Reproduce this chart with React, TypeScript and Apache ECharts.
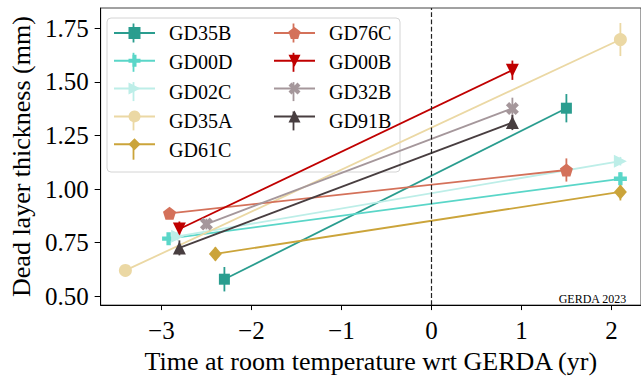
import React, { useEffect, useRef } from "react";
import * as echarts from "echarts";

const detectors = ["GD35B", "GD00D", "GD02C", "GD35A", "GD61C", "GD76C", "GD00B", "GD32B", "GD91B"];
const colors = ["#2a9d8f", "#5ad6c8", "#bdeee8", "#ebd8a4", "#cba43a", "#d4715a", "#c00000", "#a5979b", "#483e40"];
const timeStart = [-2.30, -2.92, -2.82, -3.40, -2.40, -2.91, -2.80, -2.50, -2.80];
const timeEnd = [1.50, 2.10, 2.10, 2.10, 2.10, 1.50, 0.90, 0.90, 0.90];
const dlStart = [0.580, 0.769, 0.780, 0.621, 0.698, 0.887, 0.814, 0.837, 0.726];
const dlEnd = [1.377, 1.048, 1.130, 1.697, 0.987, 1.089, 1.554, 1.376, 1.310];
const errStart = [0.057, 0.025, 0.02, 0.02, 0.03, 0.02, 0.035, 0.025, 0.035];
const errEnd = [0.066, 0.03, 0.02, 0.077, 0.04, 0.054, 0.045, 0.05, 0.035];
const xTicks = [-3, -2, -1, 0, 1, 2];
const yTicks = [0.5, 0.75, 1.0, 1.25, 1.5, 1.75];

const FONT = "'Liberation Serif', serif";
const plusPath = "path://M2,0H4V2H6V4H4V6H2V4H0V2H2Z";
const xPath = "path://M0,1.5L1.5,0L3,1.5L4.5,0L6,1.5L4.5,3L6,4.5L4.5,6L3,4.5L1.5,6L0,4.5L1.5,3Z";
const pentPath = "path://M50,0L100,36.3L80.9,95.1L19.1,95.1L0,36.3Z";
const symbols = ["rect", plusPath, "triangle", "circle", "diamond", pentPath, "triangle", xPath, "triangle"];
const rotations = [0, 0, -90, 0, 0, 0, 180, 0, 0];
const sizes: any[] = [11, 13, 13, 13, [13, 15], 13, 13, 13, 13];

// legend layout
const LEG_LEFT = [113, 273];
const LEG_TOP = 25.5;
const LEG_ITEM_W = 41;
const LEG_ITEM_H = 15;
const LEG_GAP = 14.3;
const LEG_TEXT_OFFSET = 56;

export default function App() {
  const ref = useRef<HTMLDivElement>(null);
  useEffect(() => {
    if (!ref.current) return;
    const chart = echarts.init(ref.current, null, { renderer: "svg" });
    const series: any[] = [
      {
        type: "line",
        name: "zero",
        data: [],
        silent: true,
        markLine: {
          silent: true,
          symbol: ["none", "none"],
          label: { show: false },
          lineStyle: { type: "dashed", color: "#222", width: 1.2 },
          data: [{ xAxis: 0 }],
        },
      },
    ];
    detectors.forEach((d, i) => {
      series.push({
        type: "custom",
        name: d + " err",
        silent: true,
        data: [
          [timeStart[i], dlStart[i], errStart[i]],
          [timeEnd[i], dlEnd[i], errEnd[i]],
        ],
        encode: { x: 0, y: 1 },
        renderItem: (params: any, api: any) => {
          const x = api.value(0);
          const y = api.value(1);
          const e = api.value(2);
          const p1 = api.coord([x, y - e]);
          const p2 = api.coord([x, y + e]);
          return {
            type: "line",
            shape: { x1: p1[0], y1: p1[1], x2: p2[0], y2: p2[1] },
            style: { stroke: colors[i], lineWidth: 1.8 },
          };
        },
      });
      series.push({
        type: "line",
        name: d,
        data: [
          [timeStart[i], dlStart[i]],
          [timeEnd[i], dlEnd[i]],
        ],
        symbol: symbols[i],
        symbolSize: sizes[i],
        symbolRotate: rotations[i],
        showAllSymbol: true,
        lineStyle: { color: colors[i], width: 1.8 },
        itemStyle: { color: colors[i], opacity: 1 },
        emphasis: { disabled: true },
      });
    });

    const legendCommon = {
      orient: "vertical",
      top: LEG_TOP,
      itemWidth: LEG_ITEM_W,
      itemHeight: LEG_ITEM_H,
      itemGap: LEG_GAP,
      padding: 0,
      selectedMode: false,
      z: 4,
      formatter: () => "",
      textStyle: { fontSize: 8 },
    };

    const legendDecor: any[] = [];
    detectors.forEach((d, i) => {
      const col = i < 5 ? 0 : 1;
      const row = i < 5 ? i : i - 5;
      const cx = LEG_LEFT[col] + LEG_ITEM_W / 2;
      const cy = LEG_TOP + row * (LEG_ITEM_H + LEG_GAP) + LEG_ITEM_H / 2;
      legendDecor.push({
        type: "line",
        z: 5,
        shape: { x1: cx, y1: cy - 9.5, x2: cx, y2: cy + 9.5 },
        style: { stroke: colors[i], lineWidth: 1.8 },
      });
      legendDecor.push({
        type: "text",
        z: 5,
        x: LEG_LEFT[col] + LEG_TEXT_OFFSET,
        y: cy,
        style: {
          text: d,
          fontFamily: "Liberation Serif",
          fontSize: 20,
          fill: "#000",
          align: "left",
          verticalAlign: "middle",
        },
      });
    });

    chart.setOption({
      animation: false,
      backgroundColor: "#fff",
      textStyle: { fontFamily: FONT },
      grid: { left: 97, top: 8, right: 0, bottom: 65, show: true, borderColor: "#444", borderWidth: 1 },
      xAxis: {
        type: "value",
        min: -3.675,
        max: 2.329,
        splitLine: { show: false },
        axisLine: { onZero: false, lineStyle: { color: "#000", width: 1 } },
        axisTick: { customValues: xTicks, length: 5, lineStyle: { color: "#000" } },
        axisLabel: {
          customValues: xTicks,
          margin: 13,
          fontFamily: FONT,
          fontSize: 25,
          color: "#000",
          formatter: (v: number) => (v < 0 ? "\u2212" + Math.abs(v) : String(v)),
        },
        name: "Time at room temperature wrt GERDA (yr)",
        nameLocation: "middle",
        nameGap: 42,
        nameTextStyle: { fontFamily: FONT, fontSize: 26, color: "#000" },
      },
      yAxis: {
        type: "value",
        min: 0.4593,
        max: 1.844,
        splitLine: { show: false },
        axisLine: { show: true, onZero: false, lineStyle: { color: "#000", width: 1 } },
        axisTick: { show: true, customValues: yTicks, length: 6, lineStyle: { color: "#000" } },
        axisLabel: {
          customValues: yTicks,
          margin: 12,
          fontFamily: FONT,
          fontSize: 25,
          color: "#000",
          formatter: (v: number) => v.toFixed(2),
        },
        name: "Dead layer thickness (mm)",
        nameLocation: "middle",
        nameGap: 62,
        nameTextStyle: { fontFamily: FONT, fontSize: 26, color: "#000" },
      },
      legend: [
        { ...legendCommon, left: LEG_LEFT[0], data: detectors.slice(0, 5) },
        { ...legendCommon, left: LEG_LEFT[1], data: detectors.slice(5) },
      ],
      graphic: [
        {
          type: "rect",
          z: 3,
          shape: { x: 107, y: 18, width: 293, height: 154, r: 4 },
          style: { fill: "rgba(255,255,255,0.8)", stroke: "#d4d4d4", lineWidth: 1 },
        },
        ...legendDecor,
        {
          type: "text",
          right: 14,
          top: 293,
          z: 5,
          style: { text: "GERDA 2023", fontFamily: "Liberation Serif", fontSize: 12, fill: "#000" },
        },
      ],
      series,
    });
    return () => chart.dispose();
  }, []);
  return <div ref={ref} style={{ position: "absolute", left: 0, top: 0, width: 641, height: 379 }} />;
}
